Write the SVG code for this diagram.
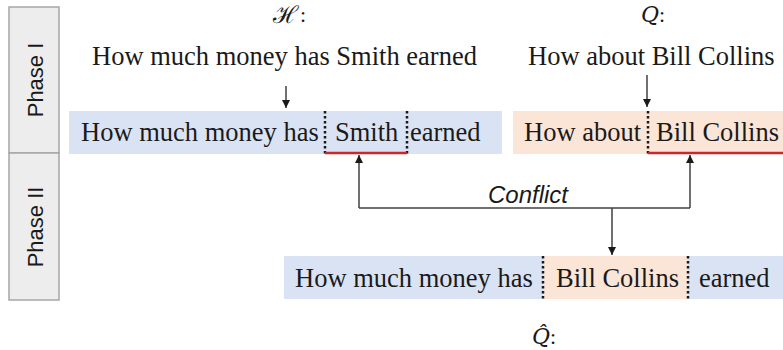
<svg xmlns="http://www.w3.org/2000/svg" width="783" height="350" viewBox="0 0 783 350">
<style>
.t{font-family:"Liberation Serif","Times New Roman",serif;font-size:26.5px;fill:#1a1a1a}
.m{font-family:"DejaVu Serif","Liberation Serif",serif;font-size:22px;font-style:italic;fill:#1a1a1a}
.c{font-family:"Liberation Serif",serif;font-size:22px;fill:#1a1a1a}
.ph{font-family:"Liberation Sans",Arial,sans-serif;font-size:22px;fill:#1a1a1a}
.phbox{fill:#ededed;stroke:#a6a6a6;stroke-width:1.5}
.blue{fill:#dae3f3}
.peach{fill:#fbe5d6}
.dot{stroke:#1a1a1a;stroke-width:2.5;stroke-dasharray:2.5 2.5;fill:none}
.red{stroke:#c8282a;stroke-width:2.5;fill:none}
.ln{stroke:#404040;stroke-width:1.5;fill:none}
.cf{font-family:"Liberation Sans",Arial,sans-serif;font-size:24px;font-style:italic;fill:#1a1a1a}
</style>
<defs>
<marker id="ah" viewBox="0 0 10 10" refX="10" refY="5" markerWidth="8" markerHeight="8" orient="auto" markerUnits="userSpaceOnUse">
<path d="M0,0 L10,5 L0,10 z" fill="#1a1a1a"/>
</marker>
</defs>
<g id="phase1">
<rect class="phbox" x="9" y="7" width="50" height="146"/>
<text class="ph" transform="translate(43,80) rotate(-90)" text-anchor="middle">Phase I</text>
</g>
<g id="phase2">
<rect class="phbox" x="9" y="153" width="50" height="147"/>
<text class="ph" transform="translate(43,227) rotate(-90)" text-anchor="middle">Phase II</text>
</g>
<g id="H-label">
<text class="m" x="273" y="23" style="font-size:24px;font-style:normal">ℋ</text>
<text class="c" x="300" y="22">:</text>
</g>
<g id="Q-label">
<text class="m" x="641" y="22">Q</text>
<text class="c" x="659" y="22">:</text>
</g>
<g id="H-text">
<text class="t" x="92" y="65">How much money has Smith earned</text>
</g>
<g id="Q-text">
<text class="t" x="528" y="65">How about Bill Collins</text>
</g>
<g id="H-row">
<rect class="blue" x="69" y="111" width="433" height="43"/>
<text class="t" x="81" y="141">How much money has</text>
<text class="t" x="335" y="141">Smith</text>
<text class="t" x="410" y="141">earned</text>
<line class="dot" x1="325" y1="111" x2="325" y2="154"/>
<line class="dot" x1="407" y1="111" x2="407" y2="154"/>
<line class="red" x1="325" y1="153" x2="407" y2="153"/>
</g>
<g id="Q-row">
<rect class="peach" x="513" y="111" width="270" height="43"/>
<text class="t" x="524" y="141">How about</text>
<text class="t" x="656" y="141">Bill Collins</text>
<line class="dot" x1="648" y1="111" x2="648" y2="154"/>
<line class="red" x1="648" y1="153" x2="783" y2="153"/>
</g>
<g id="Qhat-row">
<rect class="blue" x="284" y="256" width="499" height="43"/>
<rect class="peach" x="543" y="256" width="145" height="43"/>
<text class="t" x="295" y="287">How much money has</text>
<text class="t" x="556" y="287">Bill Collins</text>
<text class="t" x="699" y="287">earned</text>
<line class="dot" x1="543" y1="256" x2="543" y2="299"/>
<line class="dot" x1="688" y1="256" x2="688" y2="299"/>
</g>
<g id="Qhat-label">
<text class="m" x="532" y="344">Q̂</text>
<text class="c" x="550" y="344">:</text>
</g>
<g id="connectors">
<line class="ln" x1="286" y1="86" x2="286" y2="108" marker-end="url(#ah)"/>
<line class="ln" x1="647" y1="75" x2="647" y2="107" marker-end="url(#ah)"/>
<path class="ln" d="M359,208 V155" marker-end="url(#ah)"/>
<path class="ln" d="M359,208 H690"/>
<path class="ln" d="M690,208 V155" marker-end="url(#ah)"/>
<line class="ln" x1="612" y1="208" x2="612" y2="255" marker-end="url(#ah)"/>
<text class="cf" x="488" y="203">Conflict</text>
</g>
</svg>
